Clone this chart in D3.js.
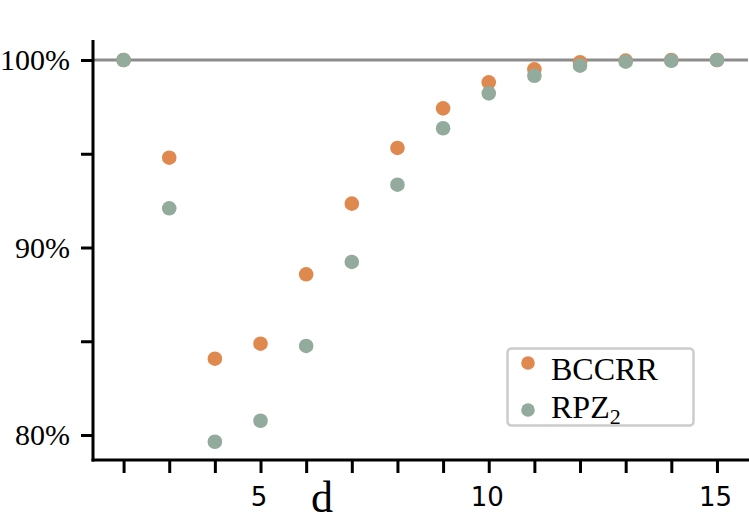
<!DOCTYPE html>
<html>
<head>
<meta charset="utf-8">
<script src="https://cdn.jsdelivr.net/npm/d3@7"></script>
<style>
  html, body { margin: 0; padding: 0; background: #fff; }
  svg { display: block; }
</style>
</head>
<body>
<svg id="chart" width="749" height="524"></svg>
<script>
// ---- data ----
const dValues = [2, 3, 4, 5, 6, 7, 8, 9, 10, 11, 12, 13, 14, 15];
const bccrr   = [100, 94.79, 84.07, 84.87, 88.57, 92.34, 95.31, 97.42, 98.81, 99.50, 99.88, 99.97, 100, 100];
const rpz2    = [100, 92.09, 79.64, 80.76, 84.75, 89.23, 93.35, 96.36, 98.22, 99.16, 99.70, 99.91, 99.96, 100];
const seriesNames = ["BCCRR", "RPZ"];
const yTicks = [80, 85, 90, 95, 100];
const yTickLabels = ["80%", "", "90%", "", "100%"];
const xTickLabels = ["5", "10", "15"];

// ---- layout ----
const svg = d3.select("#chart");
const pLeft = 93, pRight = 748, pTop = 40, pBottom = 460;
const serif = "'Liberation Serif', 'DejaVu Serif', serif";
const sans = "'DejaVu Sans', sans-serif";
const orange = "#e0894f", green = "#92ab9c";

const x = d3.scaleLinear().domain([1.33, 15.68]).range([pLeft, pRight]);
const y = d3.scaleLinear().domain([78.667, 101.067]).range([pBottom, pTop]);

// reference line at 100%
svg.append("line")
  .attr("x1", pLeft).attr("x2", pRight)
  .attr("y1", y(100)).attr("y2", y(100))
  .attr("stroke", "#8c8c8c").attr("stroke-width", 3);

// y axis
const yAxis = d3.axisLeft(y).tickValues(yTicks).tickSize(12).tickPadding(10)
  .tickFormat((d, i) => yTickLabels[i]);
const gy = svg.append("g").attr("transform", `translate(${pLeft},0)`).call(yAxis);
gy.select(".domain").remove();
gy.selectAll(".tick line").attr("stroke", "#000").attr("stroke-width", 3);
gy.selectAll(".tick text").attr("font-family", serif).attr("font-size", 30)
  .attr("fill", "#000").attr("dy", "0.33em").attr("x", -23);

// x axis
const xAxis = d3.axisBottom(x).tickValues(dValues).tickSize(13).tickPadding(12)
  .tickFormat(d => xTickLabels.includes(String(d)) ? String(d) : "");
const gx = svg.append("g").attr("transform", `translate(0,${pBottom})`).call(xAxis);
gx.select(".domain").remove();
gx.selectAll(".tick line").attr("stroke", "#000").attr("stroke-width", 3);
gx.selectAll(".tick text").attr("font-family", sans).attr("font-size", 26)
  .attr("fill", "#000").attr("dy", "0").attr("y", 46).attr("dx", -2);

// spines
svg.append("line").attr("x1", pLeft).attr("x2", pLeft).attr("y1", pTop).attr("y2", pBottom + 1.5)
  .attr("stroke", "#000").attr("stroke-width", 3);
svg.append("line").attr("x1", pLeft - 1.5).attr("x2", pRight + 2).attr("y1", pBottom).attr("y2", pBottom)
  .attr("stroke", "#000").attr("stroke-width", 3);

// x label
svg.append("text").attr("x", 322).attr("y", 512).attr("text-anchor", "middle")
  .attr("font-family", serif).attr("font-size", 44).attr("fill", "#000").text("d");

// points
const r = 7.3;
svg.append("g").selectAll("circle").data(dValues.map((d, i) => [d, bccrr[i]])).join("circle")
  .attr("cx", d => x(d[0])).attr("cy", d => y(d[1])).attr("r", r).attr("fill", orange);
svg.append("g").selectAll("circle").data(dValues.map((d, i) => [d, rpz2[i]])).join("circle")
  .attr("cx", d => x(d[0])).attr("cy", d => y(d[1])).attr("r", r).attr("fill", green);

// legend
const lg = svg.append("g");
lg.append("rect").attr("x", 507.5).attr("y", 348.5).attr("width", 186).attr("height", 77)
  .attr("rx", 4).attr("fill", "#fff").attr("stroke", "#cccccc").attr("stroke-width", 2.5);
lg.append("circle").attr("cx", 528).attr("cy", 363).attr("r", 6.8).attr("fill", orange);
lg.append("circle").attr("cx", 528).attr("cy", 410).attr("r", 6.8).attr("fill", green);
lg.append("text").attr("x", 551).attr("y", 380).attr("font-family", serif).attr("font-size", 32)
  .attr("fill", "#000").text(seriesNames[0]);
const t2 = lg.append("text").attr("x", 551).attr("y", 418).attr("font-family", serif)
  .attr("font-size", 32).attr("fill", "#000");
t2.append("tspan").text(seriesNames[1]);
t2.append("tspan").attr("font-size", 22).attr("dy", 6).text("2");
</script>
</body>
</html>
